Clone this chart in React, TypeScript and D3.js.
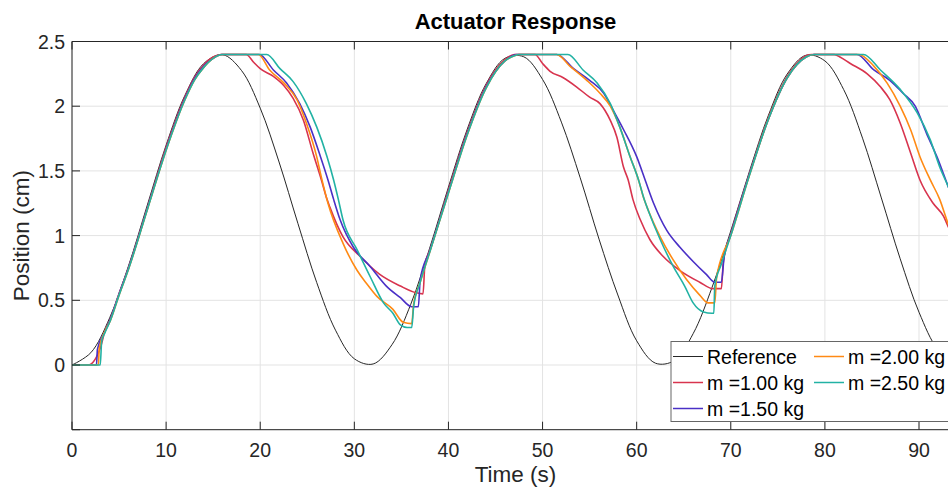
import React from "react";
import * as d3 from "d3";

const title = "Actuator Response";
const xLabel = "Time (s)";
const yLabel = "Position (cm)";
const xTicks = [0, 10, 20, 30, 40, 50, 60, 70, 80, 90];
const yTicks = [-0.5, 0, 0.5, 1, 1.5, 2, 2.5];
const yTickLabels = ["", "0", "0.5", "1", "1.5", "2", "2.5"];
const seriesNames = ["Reference", "m =1.00 kg", "m =1.50 kg", "m =2.00 kg", "m =2.50 kg"];
const seriesColors = ["#262626", "#d8344e", "#4a30c6", "#ff8a14", "#22b2a4"];

const refTime = [0,2,4,6,8,10,12,14,16,18,20,22,24,26,28,30,32,34,36,38,40,42,44,46,48,50,52,54,56,58,60,62,64,66,68,70,72,74,76,78,80,82,84,86,88,90,92,94,94.25];
const refPos = [0,0.095,0.364,0.765,1.235,1.699,2.084,2.330,2.398,2.277,1.985,1.569,1.095,0.638,0.269,0.048,0.008,0.157,0.470,0.902,1.375,1.823,2.173,2.370,2.382,2.207,1.877,1.447,0.973,0.541,0.187,0.014,0.034,0.242,0.598,1.036,1.501,1.930,2.249,2.394,2.350,2.128,1.753,1.291,0.821,0.408,0.119,0.001,0];

const m100: [number, number][] = [[0,0],[1.7,0],[3.0,0.13],[3.5,0.26],[4,0.34],[5,0.55],[6,0.75],[8,1.21],[10,1.68],[12,2.07],[13,2.22],[14,2.32],[15,2.38],[15.8,2.40],[18.5,2.40],[19.3,2.34],[20.0,2.29],[21.4,2.23],[22.5,2.16],[23.5,2.06],[24.6,1.89],[25.6,1.64],[26.5,1.43],[27.1,1.28],[27.4,1.22],[28.8,0.99],[30.6,0.84],[32.7,0.70],[34.9,0.61],[36.5,0.56],[37.3,0.55],[37.5,0.78],[38,0.88],[40,1.35],[42,1.80],[44,2.16],[46,2.36],[47,2.40],[49.2,2.40],[50.0,2.33],[50.8,2.27],[52.2,2.22],[53.6,2.15],[55.0,2.07],[56.1,2.02],[57.2,1.89],[57.9,1.76],[58.6,1.53],[59.1,1.43],[59.6,1.28],[60.4,1.12],[61.4,0.97],[62.8,0.84],[64.6,0.73],[66.7,0.64],[68.1,0.59],[69.0,0.59],[69.2,0.79],[70,1.01],[72,1.48],[74,1.91],[76,2.23],[77,2.33],[78,2.39],[78.6,2.40],[81.0,2.40],[81.6,2.38],[82.7,2.33],[84.5,2.25],[85.9,2.15],[86.9,2.05],[88.0,1.87],[89.1,1.64],[90.1,1.43],[91.5,1.25],[92.6,1.15],[93.1,1.07],[94.2,0.93]];

const m150: [number, number][] = [[0,0],[2.6,0],[2.7,0.12],[3.5,0.26],[4,0.34],[5,0.55],[6,0.75],[8,1.21],[10,1.67],[12,2.06],[13,2.21],[14,2.31],[15,2.37],[15.9,2.40],[19.9,2.40],[21.4,2.28],[22.8,2.18],[24.2,2.02],[25.3,1.84],[26.4,1.61],[27.2,1.43],[27.8,1.28],[28.5,1.12],[29.9,0.91],[31.7,0.76],[33.4,0.61],[34.9,0.52],[36.1,0.45],[36.8,0.45],[37.0,0.66],[38,0.88],[40,1.34],[42,1.79],[44,2.15],[46,2.35],[47.2,2.40],[51.5,2.40],[53.3,2.29],[55.0,2.20],[56.5,2.10],[57.5,1.97],[58.6,1.82],[60.0,1.61],[60.9,1.43],[61.8,1.25],[63.2,1.04],[64.6,0.91],[66.0,0.80],[67.4,0.70],[68.3,0.64],[69.0,0.64],[69.3,0.84],[70,1.01],[72,1.48],[74,1.90],[76,2.22],[78,2.38],[78.8,2.40],[83.4,2.40],[85.2,2.28],[86.9,2.20],[88.3,2.10],[89.6,2.00],[90.8,1.79],[91.9,1.61],[93.1,1.38],[94.2,1.18]];

const m200: [number, number][] = [[0,0],[2.8,0],[2.9,0.13],[3.5,0.26],[4,0.33],[5,0.54],[6,0.74],[8,1.20],[10,1.66],[12,2.05],[13,2.20],[14,2.30],[15,2.37],[16,2.40],[19.8,2.40],[21.0,2.28],[22.5,2.18],[23.9,2.05],[24.9,1.87],[26.0,1.61],[26.5,1.45],[27.2,1.25],[28.8,0.94],[30.3,0.73],[31.3,0.63],[32.4,0.53],[34.1,0.43],[35.2,0.33],[36.1,0.32],[36.3,0.47],[37,0.64],[38,0.87],[40,1.33],[42,1.78],[44,2.14],[46,2.35],[47,2.39],[47.5,2.40],[51.5,2.40],[52.9,2.31],[54.7,2.20],[56.1,2.10],[57.2,2.00],[58.2,1.84],[59.3,1.61],[60.2,1.43],[60.7,1.30],[61.1,1.22],[62.5,0.99],[63.9,0.81],[65.3,0.66],[66.7,0.54],[67.6,0.48],[68.3,0.48],[68.5,0.68],[70,1.00],[72,1.47],[74,1.90],[76,2.22],[78,2.38],[78.9,2.40],[83.6,2.40],[85.2,2.31],[86.6,2.18],[88.0,2.00],[89.1,1.82],[90.1,1.61],[91.2,1.43],[92.2,1.28],[93.1,1.09],[94.2,0.90]];

const m250: [number, number][] = [[0,0],[3.0,0],[3.15,0.18],[3.5,0.25],[4,0.33],[5,0.54],[6,0.74],[8,1.20],[10,1.66],[12,2.05],[13,2.20],[14,2.30],[15,2.37],[16,2.40],[20.7,2.40],[22.1,2.29],[23.5,2.19],[24.9,2.02],[26.0,1.84],[27.1,1.61],[27.8,1.43],[28.3,1.28],[28.8,1.12],[30.3,0.89],[31.7,0.68],[33.1,0.48],[34.1,0.40],[34.9,0.31],[35.6,0.29],[36.1,0.29],[36.3,0.45],[37,0.64],[38,0.87],[40,1.33],[42,1.78],[44,2.14],[46,2.35],[47,2.39],[47.5,2.40],[52.7,2.40],[54.3,2.28],[55.8,2.18],[57.2,2.02],[58.2,1.84],[59.3,1.61],[60.2,1.43],[60.8,1.28],[61.2,1.20],[62.5,0.97],[63.9,0.76],[65.1,0.61],[66.0,0.48],[67.1,0.41],[68.0,0.40],[68.2,0.40],[68.3,0.61],[69,0.78],[70,1.00],[72,1.47],[74,1.90],[76,2.22],[78,2.38],[78.9,2.40],[84.1,2.40],[85.9,2.28],[88.0,2.13],[89.8,1.95],[91.2,1.74],[92.2,1.53],[93.1,1.38],[94.2,1.18]];

const W = 948, H = 488;
const PL = 72, PR = 959, PT = 41.5, PB = 429.7;
const FONT = "'Liberation Sans', Arial, Helvetica, sans-serif";

export default function App() {
  const x = d3.scaleLinear().domain([0, 94.25]).range([PL, PR]);
  const y = d3.scaleLinear().domain([-0.5, 2.5]).range([PB, PT]);
  const refData: [number, number][] = refTime.map((t, i) => [t, refPos[i]]);
  const refLine = d3.line<[number, number]>().x(d => x(d[0])).y(d => y(d[1])).curve(d3.curveCatmullRom);
  const line = d3.line<[number, number]>().x(d => x(d[0])).y(d => y(d[1])).curve(d3.curveMonotoneX);
  const series = [m100, m150, m200, m250];
  const axisColor = "#262626";
  const tickLen = 8;

  const legendX = 671, legendY = 341.5, legendW = 300, legendH = 80;
  const legendItems = [
    { name: seriesNames[0], color: seriesColors[0], col: 0, row: 0, w: 1 },
    { name: seriesNames[1], color: seriesColors[1], col: 0, row: 1, w: 1.5 },
    { name: seriesNames[2], color: seriesColors[2], col: 0, row: 2, w: 1.5 },
    { name: seriesNames[3], color: seriesColors[3], col: 1, row: 0, w: 1.5 },
    { name: seriesNames[4], color: seriesColors[4], col: 1, row: 1, w: 1.5 },
  ];

  return (
    <svg width={W} height={H} style={{ position: "absolute", left: 0, top: 0, background: "#fff" }} fontFamily={FONT}>
      <defs>
        <clipPath id="plotclip">
          <rect x={PL} y={PT} width={PR - PL} height={PB - PT} />
        </clipPath>
      </defs>
      <rect x={PL} y={PT} width={PR - PL} height={PB - PT} fill="#fff" />
      {xTicks.map(t => (
        <line key={"gx" + t} x1={x(t)} x2={x(t)} y1={PT} y2={PB} stroke="#e3e3e3" strokeWidth={1} />
      ))}
      {yTicks.map(t => (
        <line key={"gy" + t} x1={PL} x2={PR} y1={y(t)} y2={y(t)} stroke="#e3e3e3" strokeWidth={1} />
      ))}
      <g clipPath="url(#plotclip)" fill="none">
        <path d={refLine(refData) || ""} stroke={seriesColors[0]} strokeWidth={1} />
        {series.map((s, i) => (
          <path key={i} d={line(s) || ""} stroke={seriesColors[i + 1]} strokeWidth={1.6} strokeLinejoin="round" />
        ))}
      </g>
      <line x1={PL} x2={PR} y1={PT} y2={PT} stroke={axisColor} strokeWidth={1} />
      <line x1={PL} x2={PR} y1={PB} y2={PB} stroke={axisColor} strokeWidth={1} />
      <line x1={PL} x2={PL} y1={PT} y2={PB} stroke={axisColor} strokeWidth={1} />
      <line x1={PR} x2={PR} y1={PT} y2={PB} stroke={axisColor} strokeWidth={1} />
      {xTicks.map(t => (
        <g key={"xt" + t}>
          <line x1={x(t)} x2={x(t)} y1={PB} y2={PB - tickLen} stroke={axisColor} />
          <line x1={x(t)} x2={x(t)} y1={PT} y2={PT + tickLen} stroke={axisColor} />
          <text x={x(t)} y={PB + 27} textAnchor="middle" fontSize={19.5} fill={axisColor}>{t}</text>
        </g>
      ))}
      {yTicks.map((t, i) => (
        <g key={"yt" + t}>
          <line x1={PL} x2={PL + tickLen} y1={y(t)} y2={y(t)} stroke={axisColor} />
          <text x={PL - 7} y={y(t) + 7} textAnchor="end" fontSize={19.5} fill={axisColor}>{yTickLabels[i]}</text>
        </g>
      ))}
      <text x={(PL + PR) / 2} y={29} textAnchor="middle" fontSize={22} fontWeight="bold" fill="#000">{title}</text>
      <text x={(PL + PR) / 2} y={482} textAnchor="middle" fontSize={22.5} fill={axisColor}>{xLabel}</text>
      <text transform={`translate(29,${(PT + PB) / 2}) rotate(-90)`} textAnchor="middle" fontSize={22.5} fill={axisColor}>{yLabel}</text>
      <g>
        <rect x={legendX} y={legendY} width={legendW} height={legendH} fill="#fff" stroke="#666" strokeWidth={1} />
        {legendItems.map(it => {
          const lx = legendX + 2 + it.col * 141;
          const ly = legendY + 15 + it.row * 26;
          return (
            <g key={it.name}>
              <line x1={lx} x2={lx + 30} y1={ly} y2={ly} stroke={it.color} strokeWidth={it.w} />
              <text x={lx + 34} y={ly + 7} fontSize={19.5} fill="#000">{it.name}</text>
            </g>
          );
        })}
      </g>
    </svg>
  );
}
